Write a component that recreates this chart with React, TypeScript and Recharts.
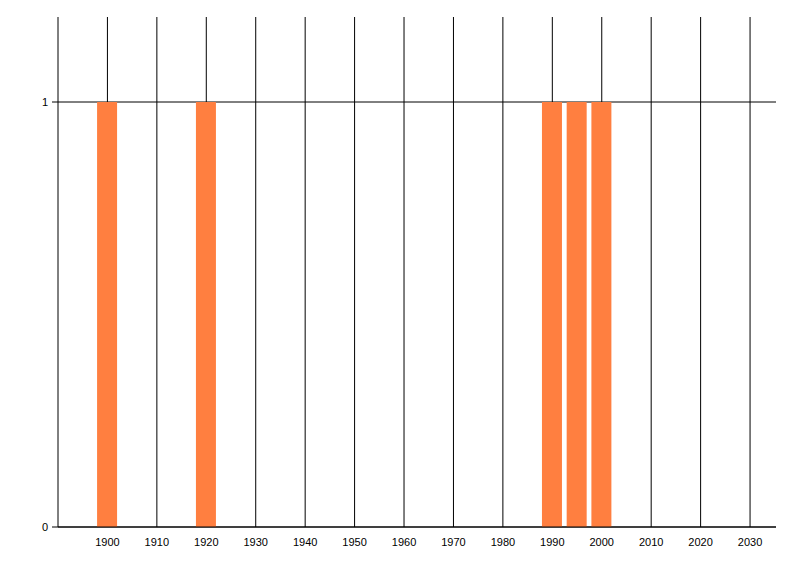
import { ComposedChart, Bar, XAxis, YAxis, CartesianGrid } from 'recharts';

const YEARS = [1900, 1920, 1990, 1995, 2000];
const COUNTS = [1, 1, 1, 1, 1];
const X_TICKS = [1900, 1910, 1920, 1930, 1940, 1950, 1960, 1970, 1980, 1990, 2000, 2010, 2020, 2030];
const Y_TICKS = [0, 1];

const BAR_COLOR = '#FF7F40';

const data = YEARS.map((year, i) => ({ year, count: COUNTS[i] }));

const tickStyle = { fontFamily: '"Liberation Sans", Arial, sans-serif', fontSize: 11, fill: '#000' };

const App = () => {
  return (
    <div style={{ position: 'absolute', left: 0, top: 0, width: 800, height: 576, background: '#fff' }}>
      <ComposedChart width={800} height={576} data={data} margin={{ top: 17, right: 24, bottom: 0, left: 0 }}>
        {/* syncWithTicks: only lines at tick values, no border lines */}
        <CartesianGrid stroke="#000" strokeWidth={1} syncWithTicks />
        <XAxis
          dataKey="year"
          type="number"
          domain={[1890, 2035.25]}
          ticks={X_TICKS}
          allowDataOverflow
          height={49}
          tickLine={false}
          axisLine={{ stroke: '#000' }}
          tick={tickStyle}
          tickMargin={5}
        />
        <YAxis
          type="number"
          domain={[0, 1.2]}
          ticks={Y_TICKS}
          allowDataOverflow
          width={58}
          tickSize={6}
          tickLine={{ stroke: '#000' }}
          axisLine={{ stroke: '#000' }}
          tick={tickStyle}
          tickMargin={4}
        />
        <Bar dataKey="count" fill={BAR_COLOR} barSize={20} isAnimationActive={false} />
      </ComposedChart>
    </div>
  );
};

export default App;
